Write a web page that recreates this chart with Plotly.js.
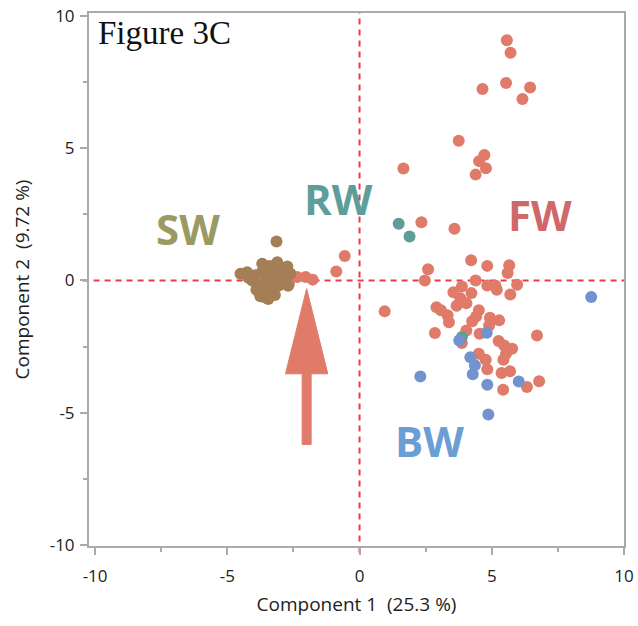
<!DOCTYPE html>
<html>
<head>
<meta charset="utf-8">
<script src="https://cdn.plot.ly/plotly-3.0.1.min.js"></script>
<style>html,body{margin:0;padding:0;background:#fff;}#chart{width:638px;height:626px;}</style>
</head>
<body>
<div id="chart"></div>
<script>
// Freshwater (FW)
const fwX = [5.57,5.71,5.54,4.65,6.45,6.16,3.75,4.72,4.52,4.78,4.39,1.66,2.34,3.59,4.22,4.83,5.66,5.60,2.59,2.47,4.39,4.83,5.13,5.19,5.96,5.70,3.87,3.55,4.23,3.81,4.04,3.67,0.95,2.91,3.08,3.33,3.38,4.51,4.41,4.26,4.93,5.28,4.90,4.04,2.85,4.54,6.71,3.87,5.26,5.47,5.77,5.54,4.51,4.77,5.44,4.83,5.37,5.69,6.79,6.33,5.43,-0.56,-0.88,-2.36,-2.04,-1.77,-2.67];
const fwY = [9.08,8.61,7.46,7.24,7.29,6.86,5.28,4.74,4.51,4.24,4.00,4.23,2.20,1.95,0.76,0.55,0.57,0.28,0.42,0.00,0.00,-0.19,-0.19,-0.35,-0.16,-0.53,-0.23,-0.45,-0.48,-0.67,-0.86,-0.96,-1.17,-1.01,-1.13,-1.32,-1.58,-1.13,-1.36,-1.54,-1.41,-1.51,-1.70,-1.89,-1.99,-2.02,-2.08,-2.37,-2.29,-2.46,-2.58,-2.77,-2.77,-3.00,-3.00,-3.36,-3.50,-3.43,-3.81,-4.03,-4.13,0.92,0.34,0.13,0.13,0.03,-0.13];
// Reclaimed water (RW)
const rwX = [1.48,1.89,3.87];
const rwY = [2.14,1.66,-2.14];
// Seawater (SW)
const swX = [-3.14,-4.50,-4.25,-3.68,-3.11,-2.73,-4.06,-3.81,-3.62,-3.30,-3.05,-2.80,-2.61,-3.43,-3.87,-3.55,-3.25,-3.00,-3.70,-3.95,-3.35,-3.60,-2.90,-3.20,-3.75,-3.45,-3.10,-3.50,-2.85,-4.20,-3.90,-3.15,-2.70,-3.40];
const swY = [1.47,0.25,0.31,0.63,0.69,0.53,0.00,-0.44,-0.63,-0.38,-0.19,0.00,0.25,0.25,-0.19,0.05,0.10,0.30,0.30,0.20,-0.15,-0.30,-0.10,-0.55,-0.60,-0.70,0.45,0.45,0.30,0.10,-0.35,-0.05,-0.20,0.55];
// Brackish water (BW)
const bwX = [8.76,4.81,3.77,4.19,4.36,4.28,2.30,4.83,6.02,4.87];
const bwY = [-0.63,-1.98,-2.27,-2.90,-3.21,-3.55,-3.63,-3.94,-3.82,-5.07];

const groupLabels = ["SW","RW","FW","BW"];
const labelX = [-6.47,-0.79,6.84,2.65];
const labelY = [1.95,3.10,2.48,-6.05];
const labelColors = ["#9a9a62","#5e9e9a","#d0686a","#6a9ed4"];

const tickVals = [-10,-5,0,5,10];
const tickText = ["-10","-5","0","5","10"];

// Arrow (data coordinates)
const arrowX = -2.0, arrowTipY = -0.31, arrowHeadBaseY = -3.53, arrowTailY = -6.2;
const arrowHeadHalf = 0.80, arrowShaftHalf = 0.17;

function mk(x, y, color, name){
  return {x:x, y:y, name:name, type:'scatter', mode:'markers', hoverinfo:'x+y',
    marker:{size:12, color:color, opacity:1, line:{width:0}}};
}
const traces = [
  mk(fwX, fwY, '#e07b6a', 'FW'),
  mk(rwX, rwY, '#5e9e96', 'RW'),
  mk(swX, swY, '#a47f56', 'SW'),
  mk(bwX, bwY, '#7393cf', 'BW')
];

const annotations = groupLabels.map((t,i)=>({
  x:labelX[i], y:labelY[i], xref:'x', yref:'y', text:'<b>'+t+'</b>', showarrow:false,
  font:{family:'Open Sans', size:42, color:labelColors[i]}, xanchor:'center', yanchor:'middle'
}));
annotations.push({
  x:0.014, y:1.0, xref:'paper', yref:'paper', text:'Figure 3C', showarrow:false,
  xanchor:'left', yanchor:'top', font:{family:'Liberation Serif', size:33, color:'#111'}
});

const A = arrowX;
const arrowPath = 'M '+(A-arrowShaftHalf)+','+arrowTailY+
  ' L '+(A+arrowShaftHalf)+','+arrowTailY+
  ' L '+(A+arrowShaftHalf)+','+arrowHeadBaseY+
  ' L '+(A+arrowHeadHalf)+','+arrowHeadBaseY+
  ' L '+A+','+arrowTipY+
  ' L '+(A-arrowHeadHalf)+','+arrowHeadBaseY+
  ' L '+(A-arrowShaftHalf)+','+arrowHeadBaseY+' Z';

const shapes = [
  {type:'line', xref:'x', yref:'paper', x0:0, x1:0, y0:-0.012, y1:1, layer:'below',
   line:{color:'#ec3a48', width:2, dash:'6px,5px'}},
  {type:'line', xref:'paper', yref:'y', x0:-0.012, x1:1, y0:0, y1:0, layer:'below',
   line:{color:'#ec3a48', width:2, dash:'6px,5px'}},
  {type:'path', xref:'x', yref:'y', path:arrowPath, fillcolor:'#e07b6a', line:{color:'#e07b6a', width:1}, layer:'above'}
];

const axisCommon = {
  showgrid:false, zeroline:false, showline:true, mirror:true, linecolor:'#aaaaaa', linewidth:2,
  ticks:'outside', ticklen:7, tickwidth:2, tickcolor:'#aaaaaa',
  tickmode:'array', tickvals:tickVals, ticktext:tickText,
  minor:{ticks:'outside', ticklen:4, tickwidth:2, tickcolor:'#aaaaaa', dtick:2.5, tick0:0},
  tickfont:{family:'Open Sans', size:17, color:'#222'}
};

const layout = {
  width:638, height:626, showlegend:false,
  paper_bgcolor:'#fff', plot_bgcolor:'#fff',
  margin:{l:89, r:14, t:13, b:80},
  xaxis:Object.assign({}, axisCommon, {range:[-10.23,10], ticklabelstandoff:7,
    title:{text:'Component 1\u00a0\u00a0(25.3 %)', font:{family:'Open Sans', size:19, color:'#222'}, standoff:11}}),
  yaxis:Object.assign({}, axisCommon, {range:[-10.04,10.11], ticklabelstandoff:2,
    title:{text:'Component 2\u00a0\u00a0(9.72 %)', font:{family:'Open Sans', size:19, color:'#222'}, standoff:15}}),
  annotations:annotations,
  shapes:shapes
};

Plotly.newPlot('chart', traces, layout, {displayModeBar:false, staticPlot:true});
</script>
</body>
</html>
